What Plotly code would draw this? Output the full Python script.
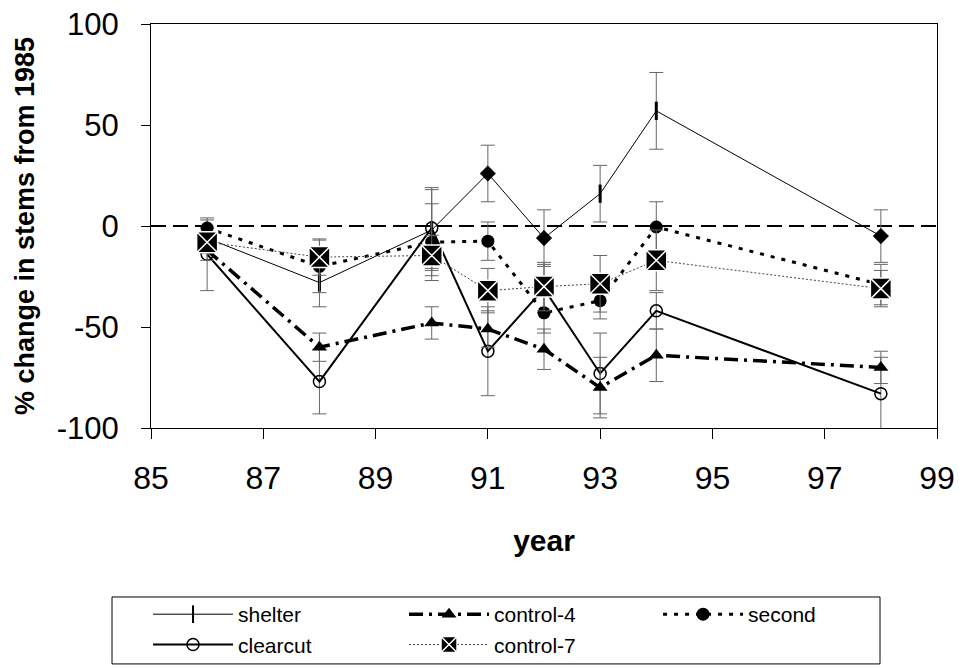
import plotly.graph_objects as go

years = [86, 88, 90, 91, 92, 93, 94, 98]

shelter = [-6, -28, -2, 26, -6, 16, 57, -5]
shelter_err = [5, 12, 20, 14, 14, 14, 19, 13]

clearcut = [-14, -77, -1, -62, -31, -73, -42, -83]
clearcut_err = [18, 16, 20, 22, 12, 20, 9, 18]

control4 = [-12, -60, -48, -51, -61, -80, -64, -70]
control4_err = [5, 7, 8, 9, 10, 15, 13, 8]

second = [-1, -20, -8, -7.5, -43, -37, -0.5, -29]
second_err = [4, 13, 19, 9.5, 10, 9, 12.5, 10]

control7 = [-8, -15.4, -14.6, -32, -30, -28.6, -17, -31]
control7_err = [5, 9, 10, 11, 12, 14, 15, 9]

shelter_symbols = ["line-ns", "line-ns", "line-ns", "diamond", "diamond", "line-ns", "line-ns", "diamond"]

x_ticks = [85, 87, 89, 91, 93, 95, 97, 99]
y_ticks = [-100, -50, 0, 50, 100]
y_tick_labels = ["-100", "-50", "0", "50", "100"]

FONT = "Liberation Sans, Arial, sans-serif"
ERR_COLOR = "#666666"


def err(vals):
    return dict(type="data", array=vals, visible=True, color=ERR_COLOR, thickness=1, width=7)


fig = go.Figure()

fig.add_trace(go.Scatter(
    x=years, y=shelter, name="shelter", mode="lines+markers", legend="legend", legendrank=1,
    line=dict(color="black", width=1), opacity=1,
    marker=dict(symbol=shelter_symbols, opacity=1,
                size=[13 if s == "line-ns" else 12 for s in shelter_symbols],
                color=["#000000"] * len(shelter_symbols),
                line=dict(color="#000000", width=[3 if s == "line-ns" else 0.5 for s in shelter_symbols])),
    error_y=err(shelter_err),
))

fig.add_trace(go.Scatter(
    x=years, y=clearcut, name="clearcut", mode="lines+markers", legend="legend", legendrank=2,
    line=dict(color="black", width=2),
    marker=dict(symbol="circle-open", size=12, color="black", line=dict(color="black", width=1.5)),
    error_y=err(clearcut_err),
))

fig.add_trace(go.Scatter(
    x=years, y=control4, name="control-4", mode="lines+markers", legend="legend2", legendrank=1,
    line=dict(color="black", width=3.5, dash="14px,6px,3px,6px"),
    marker=dict(symbol="triangle-up", size=13, color="black", line=dict(color="black", width=0)),
    error_y=err(control4_err),
))

fig.add_trace(go.Scatter(
    x=years, y=second, name="second", mode="lines+markers", legend="legend3", legendrank=1,
    line=dict(color="black", width=3, dash="4px,7px"),
    marker=dict(symbol="circle", size=13, color="black", line=dict(color="black", width=0)),
    error_y=err(second_err),
))

fig.add_trace(go.Scatter(
    x=years, y=control7, name="control-7", mode="lines+markers", legend="legend2", legendrank=2,
    line=dict(color="#444444", width=1, dash="2px,2px"),
    marker=dict(symbol="square-x", size=21, color="black", line=dict(color="white", width=1.5)),
    error_y=err(control7_err),
))

fig.add_shape(type="line", xref="paper", yref="y", x0=0, x1=1, y0=0, y1=0,
              line=dict(color="black", width=2, dash="15px,7px"), layer="below")

# legend frame
fig.add_shape(type="rect", xref="paper", yref="paper",
              x0=-0.0496, x1=0.9275, y0=-0.4183, y1=-0.584,
              line=dict(color="black", width=1), fillcolor="rgba(0,0,0,0)")

leg_common = dict(orientation="v", yanchor="top", xanchor="left", y=-0.411,
                  borderwidth=0, bgcolor="rgba(0,0,0,0)",
                  font=dict(size=21, family=FONT), itemwidth=80, traceorder="normal")

fig.update_layout(
    width=959, height=667,
    margin=dict(l=151, r=22, t=24, b=239, autoexpand=False),
    paper_bgcolor="white", plot_bgcolor="white",
    font=dict(family=FONT, color="black"),
    showlegend=True,
    legend=dict(x=-0.0038, **leg_common),
    legend2=dict(x=0.3219, **leg_common),
    legend3=dict(x=0.6451, **leg_common),
    xaxis=dict(
        range=[85, 99], tickvals=x_ticks, showgrid=False, zeroline=False, automargin=False,
        showline=True, linecolor="black", linewidth=1, mirror=True,
        ticks="outside", ticklen=10, tickcolor="black", tickwidth=1,
        tickfont=dict(size=32, family=FONT), ticklabelstandoff=12,
        title=dict(text="<b>year</b>", font=dict(size=30, family=FONT), standoff=34),
    ),
    yaxis=dict(
        range=[-100, 100], tickvals=y_ticks, ticktext=y_tick_labels,
        showgrid=False, zeroline=False, automargin=False,
        showline=True, linecolor="black", linewidth=1, mirror=True,
        ticks="outside", ticklen=9, tickcolor="black", tickwidth=1,
        tickfont=dict(size=31, family=FONT), ticklabelstandoff=16,
        title=dict(text="<b>% change in stems from 1985</b>", font=dict(size=27, family=FONT), standoff=14),
    ),
)

fig.write_html("out.html", config={"displayModeBar": False},
               post_script="document.body.style.margin='0';document.body.style.padding='0';")
